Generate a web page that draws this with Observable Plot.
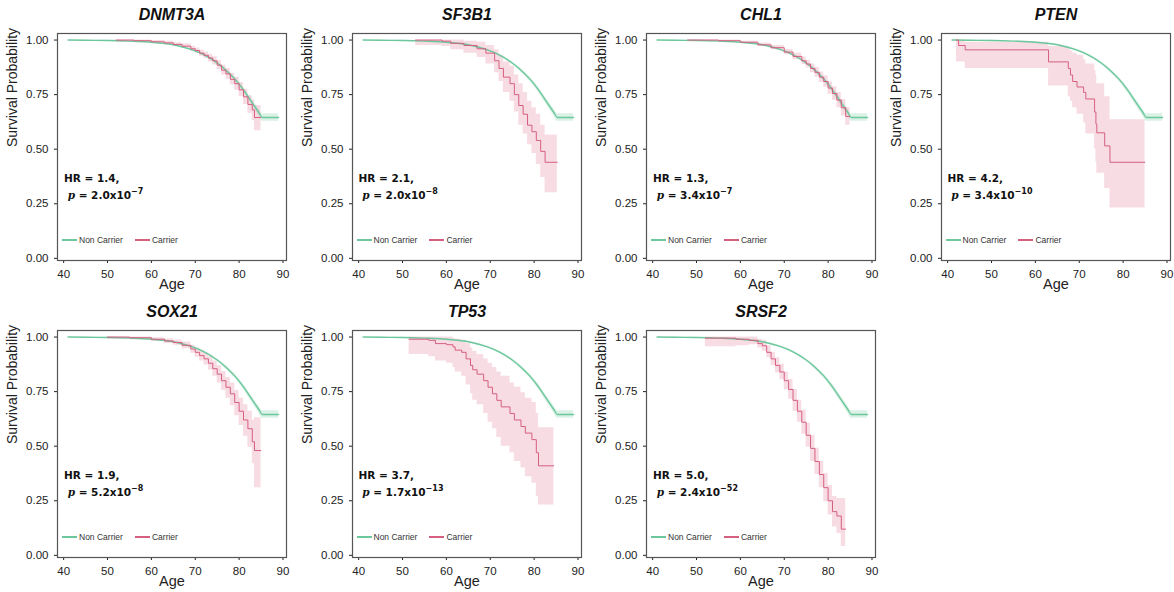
<!DOCTYPE html>
<html><head><meta charset="utf-8">
<script src="https://cdn.jsdelivr.net/npm/d3@7"></script>
<script src="https://cdn.jsdelivr.net/npm/@observablehq/plot@0.6"></script>
<style>
body{margin:0;background:#fff;font-family:"Liberation Sans",Arial,sans-serif;}
#wrap{position:relative;width:1174px;height:592px;}
.panel{position:absolute;width:294px;height:297px;}
.hr{position:absolute;font-family:"DejaVu Sans",sans-serif;font-weight:bold;font-size:10.5px;line-height:14px;color:#111;}
.hr i{font-family:"DejaVu Serif",serif;}
.hr sup{font-size:8px;}
.leg{position:absolute;font-size:8.5px;color:#333;display:flex;align-items:center;}
.leg span.l{display:inline-block;width:15px;height:1.4px;margin-right:2px;}
</style></head><body><div id="wrap"></div>
<script>
const genes = ["DNMT3A","SF3B1","CHL1","PTEN","SOX21","TP53","SRSF2"];
const hrs = ["1.4","2.1","1.3","4.2","1.9","3.7","5.0"];
const pMant = ["2.0","2.0","3.4","3.4","5.2","1.7","2.4"];
const pExp = ["−7","−8","−7","−10","−8","−13","−52"];
const xTicks = [40,50,60,70,80,90];
const yTicks = [0,0.25,0.5,0.75,1];

const ncAge = [41,45,50,55,60,63,66,69,72,75,77,79,81,83,84.5,85.3,89];
const ncS   = [1,0.999,0.998,0.995,0.99,0.984,0.974,0.957,0.932,0.895,0.862,0.822,0.772,0.712,0.668,0.645,0.645];
const ncLo  = [1,0.998,0.997,0.994,0.988,0.982,0.971,0.953,0.927,0.889,0.854,0.812,0.760,0.698,0.652,0.628,0.628];
const ncHi  = [1,1,0.999,0.996,0.992,0.986,0.977,0.961,0.937,0.901,0.870,0.832,0.784,0.726,0.684,0.662,0.662];

const DNMT3A = {age:[52,56,60,63,65,67,69,70,71,72,73,74,75,76,77,78,79,80,81,82,83,83.5,85],
 s:[1,0.997,0.992,0.987,0.98,0.972,0.96,0.952,0.94,0.93,0.918,0.905,0.885,0.862,0.845,0.82,0.8,0.772,0.74,0.705,0.68,0.645,0.645],
 lo:[0.99,0.99,0.986,0.98,0.972,0.962,0.948,0.94,0.926,0.915,0.9,0.886,0.865,0.84,0.82,0.795,0.77,0.74,0.705,0.665,0.63,0.585,0.585],
 hi:[1,1,0.998,0.994,0.988,0.982,0.972,0.964,0.954,0.945,0.935,0.924,0.905,0.884,0.87,0.848,0.83,0.805,0.775,0.745,0.725,0.7,0.7]};
const SF3B1 = {age:[53,59,61,64,67,69,71,72,73,74.5,75.5,76.5,77.5,78.5,79.5,80.5,81.5,82.5,85.3],
 s:[1,0.995,0.985,0.975,0.96,0.94,0.905,0.87,0.83,0.80,0.75,0.70,0.66,0.61,0.58,0.54,0.49,0.44,0.44],
 lo:[0.975,0.97,0.955,0.94,0.92,0.89,0.85,0.81,0.76,0.72,0.67,0.61,0.57,0.52,0.48,0.43,0.37,0.30,0.30],
 hi:[1,1,1,0.995,0.99,0.975,0.955,0.93,0.9,0.88,0.84,0.8,0.76,0.72,0.69,0.66,0.61,0.565,0.565]};
const CHL1 = {age:[48,55,60,64,67,70,72,74,75,76,77,78,79,80,81,82,83,84,85],
 s:[1,0.997,0.99,0.978,0.965,0.945,0.925,0.905,0.89,0.87,0.852,0.83,0.81,0.78,0.755,0.725,0.69,0.65,0.65],
 lo:[0.995,0.993,0.985,0.97,0.955,0.933,0.91,0.888,0.872,0.85,0.83,0.806,0.784,0.752,0.724,0.69,0.652,0.61,0.61],
 hi:[1,1,0.995,0.985,0.975,0.957,0.94,0.922,0.908,0.89,0.874,0.854,0.836,0.808,0.786,0.76,0.728,0.69,0.69]};
const PTEN = {age:[42,42.5,44,63,67.5,68,68.5,69.5,71,71.5,73.5,73.8,74,75.8,77,85],
 s:[1,0.975,0.955,0.90,0.87,0.84,0.81,0.785,0.76,0.73,0.67,0.615,0.575,0.515,0.44,0.44],
 lo:[0.9,0.9,0.87,0.79,0.74,0.72,0.69,0.66,0.62,0.57,0.5,0.44,0.39,0.32,0.23,0.23],
 hi:[1,1,0.99,0.97,0.96,0.95,0.94,0.93,0.91,0.89,0.86,0.84,0.80,0.74,0.635,0.635]};
const SOX21 = {age:[50,55,60,63,65,67,69,70,71,72,73,74,75,76,77,78,79,80,81,82,83,83.5,85],
 s:[1,0.997,0.99,0.982,0.975,0.962,0.945,0.93,0.915,0.9,0.88,0.855,0.83,0.8,0.77,0.74,0.7,0.66,0.62,0.58,0.52,0.48,0.48],
 lo:[0.99,0.988,0.98,0.97,0.962,0.946,0.926,0.908,0.89,0.872,0.848,0.82,0.79,0.755,0.72,0.685,0.64,0.595,0.545,0.495,0.42,0.31,0.31],
 hi:[1,1,0.997,0.992,0.987,0.977,0.962,0.95,0.938,0.926,0.91,0.89,0.868,0.842,0.815,0.79,0.755,0.72,0.69,0.66,0.62,0.63,0.63]};
const TP53 = {age:[51.5,56,57.5,60,61.5,62,63.5,64.5,65.5,66,67,68.5,69.5,70.5,71.5,72.5,74.5,75.5,77,78,79.5,80.5,81,84.5],
 s:[0.99,0.985,0.97,0.965,0.955,0.94,0.93,0.9,0.87,0.85,0.83,0.80,0.77,0.74,0.71,0.68,0.65,0.62,0.59,0.56,0.53,0.47,0.41,0.41],
 lo:[0.92,0.91,0.89,0.88,0.86,0.84,0.82,0.78,0.74,0.71,0.69,0.65,0.61,0.58,0.54,0.5,0.47,0.43,0.4,0.36,0.33,0.27,0.23,0.23],
 hi:[1,1,1,1,0.995,0.99,0.985,0.97,0.95,0.935,0.92,0.9,0.88,0.86,0.84,0.82,0.79,0.77,0.745,0.72,0.7,0.65,0.585,0.585]};
const SRSF2 = {age:[52,59,62,64,65,66,67,68,69,70,71,72,73,74,75,76,77,78,79,80,81,82,83,84],
 s:[0.995,0.99,0.985,0.97,0.96,0.93,0.90,0.87,0.84,0.80,0.76,0.71,0.66,0.61,0.55,0.49,0.43,0.37,0.31,0.25,0.20,0.18,0.12,0.12],
 lo:[0.955,0.96,0.965,0.95,0.935,0.905,0.87,0.835,0.805,0.76,0.715,0.66,0.61,0.555,0.495,0.43,0.37,0.31,0.245,0.185,0.13,0.1,0.04,0.04],
 hi:[1,1,1,0.99,0.985,0.96,0.93,0.905,0.875,0.84,0.805,0.76,0.71,0.665,0.605,0.55,0.49,0.43,0.375,0.32,0.27,0.26,0.26,0.26]};
const carriers = [DNMT3A,SF3B1,CHL1,PTEN,SOX21,TP53,SRSF2];

const green = "#6cc79c", pink = "#d65f80";
const nc = ncAge.map((a,i)=>({a,s:ncS[i],lo:ncLo[i],hi:ncHi[i]}));
const wrap = document.getElementById("wrap");

genes.forEach((g,k)=>{
  const col = k%4, row = Math.floor(k/4);
  const c = carriers[k];
  const cd = c.age.map((a,i)=>({a,s:c.s[i],lo:c.lo[i],hi:c.hi[i]}));
  const div = document.createElement("div");
  div.className="panel";
  div.style.left = (col*294.5)+"px"; div.style.top=(row*297)+"px";
  const plot = Plot.plot({
    width:294, height:297,
    marginLeft:57, marginRight:8, marginTop:33, marginBottom:37,
    style:{fontFamily:"Liberation Sans, Arial, sans-serif", fontSize:"11.5px", color:"#222"},
    x:{domain:[38.6,90.8], ticks:xTicks, tickFormat:d=>d, label:null, tickSize:3},
    y:{domain:[-0.01,1.03], ticks:yTicks, tickFormat:d3.format(".2f"), label:null, tickSize:3},
    marks:[
      Plot.areaY(nc,{x:"a",y1:"lo",y2:"hi",fill:green,fillOpacity:0.25,curve:"monotone-x"}),
      Plot.areaY(cd,{x:"a",y1:"lo",y2:"hi",fill:"#e89ab2",fillOpacity:0.35,curve:"step-after"}),
      Plot.lineY(nc,{x:"a",y:"s",stroke:green,strokeWidth:1.4,curve:"monotone-x"}),
      Plot.lineY(cd,{x:"a",y:"s",stroke:pink,strokeWidth:1,curve:"step-after"}),
      Plot.frame({stroke:"#555",strokeWidth:1.2}),
      Plot.text([g],{frameAnchor:"top",dy:-25,text:d=>d,fontSize:16,fontWeight:"bold",fontStyle:"italic",fill:"#111"}),
      Plot.text(["Age"],{frameAnchor:"bottom",dy:28,text:d=>d,fontSize:14.5,fill:"#222"}),
      Plot.text(["Survival Probability"],{frameAnchor:"left",dx:-45,rotate:-90,text:d=>d,fontSize:14,fill:"#222"})
    ]
  });
  div.appendChild(plot);
  const hr = document.createElement("div");
  hr.className="hr"; hr.style.left="64px"; hr.style.top="171px";
  hr.innerHTML = `HR = ${hrs[k]},<br>&nbsp;<i>p</i> = ${pMant[k]}x10<sup>${pExp[k]}</sup>`;
  div.appendChild(hr);
  const leg = document.createElement("div");
  leg.className="leg"; leg.style.left="62px"; leg.style.top="235px";
  leg.innerHTML = `<span class="l" style="background:${green}"></span>Non Carrier<span class="l" style="background:${pink};margin-left:12px"></span>Carrier`;
  div.appendChild(leg);
  wrap.appendChild(div);
});
</script></body></html>
